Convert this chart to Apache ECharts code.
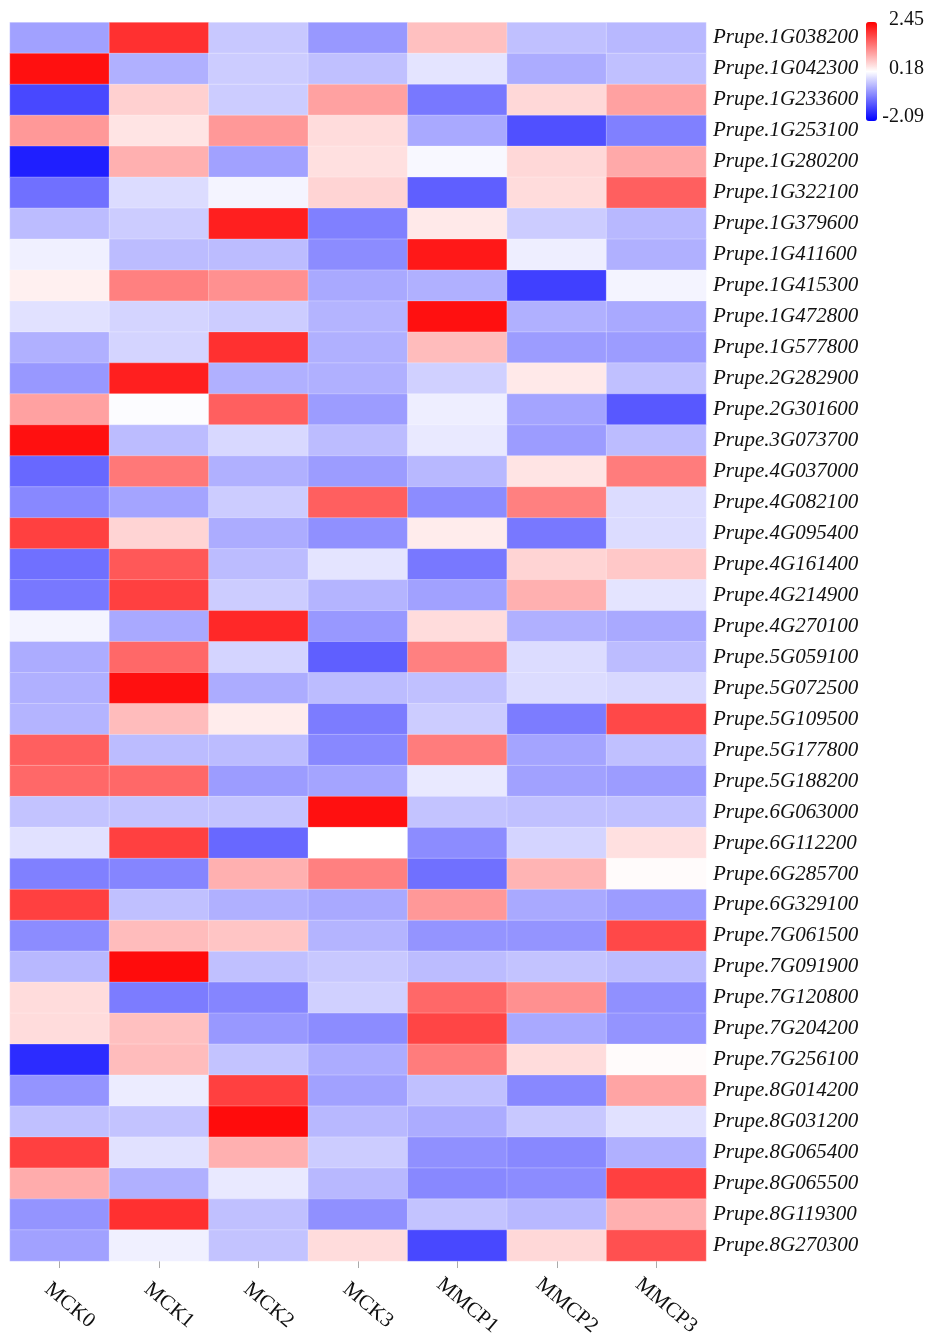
<!DOCTYPE html>
<html>
<head>
<meta charset="utf-8">
<script src="https://cdn.jsdelivr.net/npm/echarts@6/dist/echarts.min.js"></script>
<style>
html,body{margin:0;padding:0;background:#fff;}
#chart{width:930px;height:1339px;}
</style>
</head>
<body>
<div id="chart"></div>
<script>
const samples = ['MCK0','MCK1','MCK2','MCK3','MMCP1','MMCP2','MMCP3'];
const genes = ['1G038200','1G042300','1G233600','1G253100','1G280200','1G322100','1G379600','1G411600','1G415300','1G472800',
  '1G577800','2G282900','2G301600','3G073700','4G037000','4G082100','4G095400','4G161400','4G214900','4G270100',
  '5G059100','5G072500','5G109500','5G177800','5G188200','6G063000','6G112200','6G285700','6G329100','7G061500',
  '7G091900','7G120800','7G204200','7G256100','8G014200','8G031200','8G065400','8G065500','8G119300','8G270300']
  .map(g => 'Prupe.' + g);

const MCK0  = [-0.66,2.31,-1.45,1.10,-1.81,-1.09,-0.42,0.05,0.31,-0.09,-0.52,-0.74,1.02,2.31,-1.16,-0.88,1.88,-1.09,-1.02,0.08,-0.56,-0.52,-0.49,1.60,1.52,-0.35,-0.09,-0.95,1.88,-0.84,-0.45,0.49,0.49,-1.70,-0.77,-0.38,1.88,0.92,-0.77,-0.66];
const MCK1  = [2.02,-0.52,0.60,0.42,0.88,-0.13,-0.27,-0.42,1.31,-0.20,-0.20,2.17,0.15,-0.42,1.38,-0.63,0.56,1.67,1.88,-0.59,1.52,2.31,0.78,-0.42,1.52,-0.35,1.88,-0.91,-0.38,0.78,2.34,-0.99,0.74,0.78,0.01,-0.35,-0.09,-0.52,2.02,0.05];
const MCK2  = [-0.31,-0.27,-0.27,1.10,-0.66,0.08,2.17,-0.42,1.17,-0.27,2.02,-0.52,1.60,-0.17,-0.52,-0.27,-0.56,-0.42,-0.27,2.09,-0.20,-0.56,0.35,-0.42,-0.70,-0.35,-1.16,0.88,-0.52,0.70,-0.38,-0.91,-0.74,-0.35,1.88,2.34,0.88,-0.02,-0.38,-0.35];
const MCK3  = [-0.74,-0.38,1.02,0.49,0.46,0.56,-0.95,-0.84,-0.59,-0.49,-0.52,-0.52,-0.70,-0.42,-0.70,1.60,-0.81,-0.06,-0.49,-0.74,-1.24,-0.42,-0.99,-0.88,-0.63,2.31,0.18,1.31,-0.59,-0.49,-0.31,-0.24,-0.84,-0.56,-0.66,-0.45,-0.27,-0.45,-0.81,0.49];
const MMCP1 = [0.74,-0.06,-1.02,-0.59,0.12,-1.24,0.38,2.24,-0.52,2.31,0.78,-0.24,0.03,-0.02,-0.45,-0.84,0.35,-1.02,-0.66,0.49,1.31,-0.38,-0.27,1.35,-0.02,-0.35,-0.84,-1.09,1.10,-0.77,-0.42,1.52,1.84,1.35,-0.38,-0.56,-0.81,-0.88,-0.35,-1.45];
const MMCP2 = [-0.38,-0.56,0.53,-1.38,0.53,0.49,-0.27,0.03,-1.52,-0.52,-0.70,0.38,-0.63,-0.70,0.42,1.31,-1.02,0.56,0.88,-0.52,-0.13,-0.13,-0.99,-0.63,-0.66,-0.38,-0.20,0.85,-0.59,-0.77,-0.35,1.17,-0.59,0.49,-0.88,-0.31,-0.88,-0.84,-0.45,0.53];
const MMCP3 = [-0.45,-0.38,1.02,-0.95,0.95,1.60,-0.45,-0.52,0.08,-0.59,-0.70,-0.38,-1.31,-0.42,1.35,-0.13,-0.13,0.67,-0.06,-0.59,-0.42,-0.17,1.81,-0.38,-0.70,-0.38,0.46,0.22,-0.70,1.81,-0.42,-0.81,-0.77,0.22,0.99,-0.09,-0.52,1.88,0.88,1.74];

const scaleMin = -2.09, scaleMid = 0.18, scaleMax = 2.45;
const scaleLabels = ['2.45', '0.18', '-2.09'];

const columns = [MCK0, MCK1, MCK2, MCK3, MMCP1, MMCP2, MMCP3];
const data = [];
columns.forEach((col, xi) => col.forEach((v, yi) => data.push([xi, yi, v])));

const serif = '"Liberation Serif", "Times New Roman", serif';
const chart = echarts.init(document.getElementById('chart'), null, {renderer: 'canvas'});

const legTop = 22, legH = 99, legLeft = 866, legW = 11;

chart.setOption({
  animation: false,
  backgroundColor: '#fff',
  grid: {left: 10, right: 224, top: 22.5, bottom: 77},
  xAxis: {
    type: 'category',
    data: samples,
    position: 'bottom',
    axisLine: {show: false},
    axisTick: {show: true, alignWithLabel: true, length: 7, lineStyle: {color: '#aaa', width: 1}},
    axisLabel: {
      rotate: -40, fontFamily: serif, fontSize: 21, color: '#111',
      align: 'center', verticalAlign: 'middle', margin: 36, padding: [0, 0, 0, 26]
    },
    splitLine: {show: false}
  },
  yAxis: {
    type: 'category',
    data: genes,
    inverse: true,
    position: 'right',
    axisLine: {show: false},
    axisTick: {show: false},
    axisLabel: {fontFamily: serif, fontStyle: 'italic', fontSize: 21, color: '#111', margin: 7},
    splitLine: {show: false}
  },
  visualMap: {
    type: 'continuous',
    min: scaleMin, max: scaleMax,
    dimension: 2,
    calculable: false,
    orient: 'vertical',
    left: legLeft, top: legTop,
    itemWidth: legW, itemHeight: legH,
    padding: 0,
    inRange: {color: ['#0000ff', '#ffffff', '#ff0000']}
  },
  graphic: scaleLabels.map((t, i) => ({
    type: 'text',
    x: 924,
    y: legTop - 2 + i * (legH - 2) / 2,
    style: {text: t, align: 'right', verticalAlign: 'middle', font: '20px ' + serif, fill: '#111'}
  })),
  series: [{
    type: 'heatmap',
    data: data,
    itemStyle: {borderColor: 'rgba(255,255,255,0.45)', borderWidth: 0.6},
    emphasis: {disabled: true}
  }]
});
</script>
</body>
</html>
